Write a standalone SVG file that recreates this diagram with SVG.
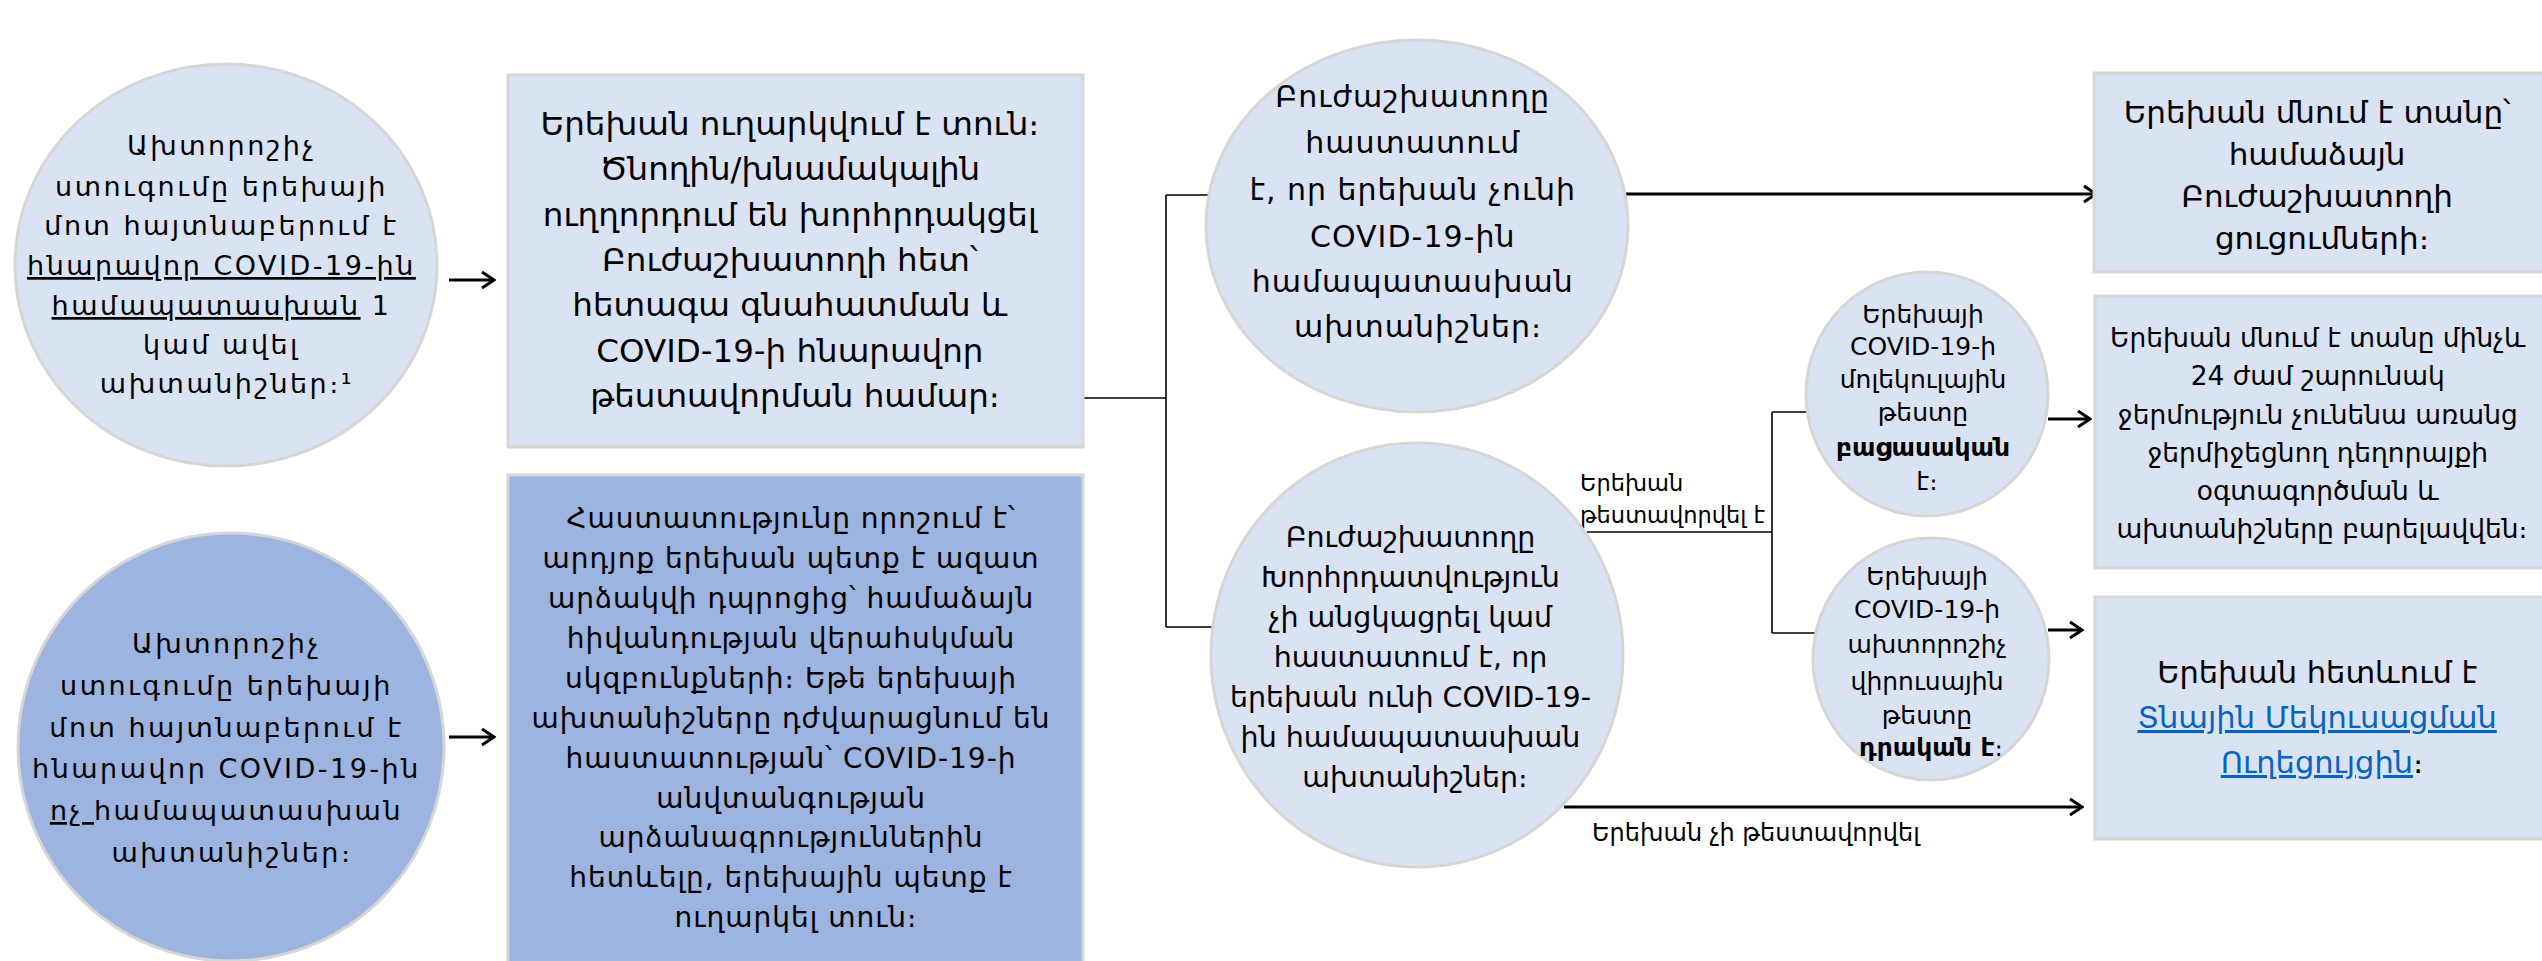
<svg xmlns="http://www.w3.org/2000/svg" width="2542" height="961" viewBox="0 0 2542 961">
<style>
text{font-family:"DejaVu Sans","Noto Sans",sans-serif;fill:#000;text-anchor:middle}
.lt{fill:#dae3f3;stroke:#d6d6d6;stroke-width:3}
.dk{fill:#9cb4df;stroke:#d6d6d6;stroke-width:3}
.ln{fill:none;stroke:#000;stroke-width:1.6}
.ar{fill:none;stroke:#000;stroke-width:3;marker-end:url(#ah)}
.lk{fill:#0563c1;text-decoration:underline}
.b{font-weight:bold}
.u{text-decoration:underline}
.lab{text-anchor:start}
.cir{font-size:27px;letter-spacing:2.5px}
</style>
<defs>
<marker id="ah" viewBox="0 0 16 20" refX="14" refY="10" markerWidth="16" markerHeight="20" markerUnits="userSpaceOnUse" orient="auto">
<path d="M2,2 L14,10 L2,18" fill="none" stroke="#000" stroke-width="3"/>
</marker>
</defs>
<rect width="2542" height="961" fill="#fff"/>

<g id="connectors">
<line class="ar" x1="449" y1="280" x2="494" y2="280"/>
<line class="ar" x1="449" y1="737" x2="494" y2="737"/>
<line class="ln" x1="1083" y1="398" x2="1166" y2="398"/>
<line class="ln" x1="1166" y1="195" x2="1166" y2="627"/>
<line class="ln" x1="1166" y1="195" x2="1209" y2="195"/>
<line class="ln" x1="1166" y1="627" x2="1213" y2="627"/>
<line class="ar" x1="1625" y1="194" x2="2096" y2="194"/>
<line class="ln" x1="1587" y1="532" x2="1772" y2="532"/>
<line class="ln" x1="1772" y1="412" x2="1772" y2="633"/>
<line class="ln" x1="1772" y1="412" x2="1808" y2="412"/>
<line class="ln" x1="1772" y1="633" x2="1815" y2="633"/>
<line class="ar" x1="2048" y1="419" x2="2090" y2="419"/>
<line class="ar" x1="2048" y1="630" x2="2082" y2="630"/>
<line class="ar" x1="1564" y1="807" x2="2082" y2="807"/>
<text class="lab" x="1580" y="491" font-size="22.5">Երեխան</text>
<text class="lab" x="1580" y="523" font-size="22.5">թեստավորվել է</text>
<text class="lab" x="1592" y="841" font-size="24">Երեխան չի թեստավորվել</text>
</g>

<g id="n1">
<ellipse class="lt" cx="226" cy="265" rx="211" ry="201"/>
<text class="cir">
<tspan x="227" y="155">Ախտորոշիչ</tspan>
<tspan x="227" y="196">ստուգումը երեխայի</tspan>
<tspan x="227" y="235">մոտ հայտնաբերում է</tspan>
<tspan x="227" y="275" class="u">հնարավոր COVID-19-ին</tspan>
<tspan x="227" y="315"><tspan class="u">համապատասխան</tspan> 1</tspan>
<tspan x="227" y="354">կամ ավել</tspan>
<tspan x="227" y="393">ախտանիշներ։¹</tspan>
</text>
</g>

<g id="n2">
<ellipse class="dk" cx="231" cy="747" rx="213" ry="214"/>
<text class="cir">
<tspan x="232" y="653">Ախտորոշիչ</tspan>
<tspan x="232" y="695">ստուգումը երեխայի</tspan>
<tspan x="232" y="737">մոտ հայտնաբերում է</tspan>
<tspan x="232" y="778">հնարավոր COVID-19-ին</tspan>
<tspan x="232" y="820"><tspan class="u">ոչ </tspan>համապատասխան</tspan>
<tspan x="232" y="862">ախտանիշներ։</tspan>
</text>
</g>

<g id="n3">
<rect class="lt" x="508" y="75" width="575" height="372"/>
<text font-size="32.5">
<tspan x="795" y="135">Երեխան ուղարկվում է տուն։</tspan>
<tspan x="795" y="180">Ծնողին/խնամակալին</tspan>
<tspan x="795" y="226">ուղղորդում են խորհրդակցել</tspan>
<tspan x="795" y="271">Բուժաշխատողի հետ՝</tspan>
<tspan x="795" y="316">հետագա գնահատման և</tspan>
<tspan x="795" y="362">COVID-19-ի հնարավոր</tspan>
<tspan x="795" y="407">թեստավորման համար։</tspan>
</text>
</g>

<g id="n4">
<rect class="dk" x="508" y="475" width="575" height="500"/>
<text font-size="28" letter-spacing="1">
<tspan x="796" y="528">Հաստատությունը որոշում է՝</tspan>
<tspan x="796" y="568">արդյոք երեխան պետք է ազատ</tspan>
<tspan x="796" y="608">արձակվի դպրոցից՝ համաձայն</tspan>
<tspan x="796" y="648">հիվանդության վերահսկման</tspan>
<tspan x="796" y="688">սկզբունքների։ Եթե երեխայի</tspan>
<tspan x="796" y="728">ախտանիշները դժվարացնում են</tspan>
<tspan x="796" y="768">հաստատության՝ COVID-19-ի</tspan>
<tspan x="796" y="808">անվտանգության</tspan>
<tspan x="796" y="847">արձանագրություններին</tspan>
<tspan x="796" y="887">հետևելը, երեխային պետք է</tspan>
<tspan x="796" y="927">ուղարկել տուն։</tspan>
</text>
</g>

<g id="n5">
<ellipse class="lt" cx="1417" cy="226" rx="211" ry="186"/>
<text font-size="30" letter-spacing="1">
<tspan x="1418" y="107">Բուժաշխատողը</tspan>
<tspan x="1418" y="153">հաստատում</tspan>
<tspan x="1418" y="200">է, որ երեխան  չունի</tspan>
<tspan x="1418" y="247">COVID-19-ին</tspan>
<tspan x="1418" y="292">համապատասխան</tspan>
<tspan x="1418" y="337">ախտանիշներ։</tspan>
</text>
</g>

<g id="n6">
<ellipse class="lt" cx="1417" cy="655" rx="206" ry="212"/>
<text font-size="28.5">
<tspan x="1415" y="547">Բուժաշխատողը</tspan>
<tspan x="1415" y="587">Խորհրդատվություն</tspan>
<tspan x="1415" y="627">չի անցկացրել  կամ</tspan>
<tspan x="1415" y="667">հաստատում է, որ</tspan>
<tspan x="1415" y="707">երեխան ունի COVID-19-</tspan>
<tspan x="1415" y="747">ին համապատասխան</tspan>
<tspan x="1415" y="787">ախտանիշներ։</tspan>
</text>
</g>

<g id="n7">
<ellipse class="lt" cx="1927" cy="394" rx="121" ry="122"/>
<text font-size="25">
<tspan x="1927" y="323">Երեխայի</tspan>
<tspan x="1927" y="355">COVID-19-ի</tspan>
<tspan x="1927" y="388">մոլեկուլային</tspan>
<tspan x="1927" y="421">թեստը</tspan>
<tspan x="1927" y="456" class="b">բացասական</tspan>
<tspan x="1927" y="490">է։</tspan>
</text>
</g>

<g id="n8">
<ellipse class="lt" cx="1931" cy="659" rx="118" ry="121"/>
<text font-size="25">
<tspan x="1931" y="585">Երեխայի</tspan>
<tspan x="1931" y="618">COVID-19-ի</tspan>
<tspan x="1931" y="653">ախտորոշիչ</tspan>
<tspan x="1931" y="690">վիրուսային</tspan>
<tspan x="1931" y="724">թեստը</tspan>
<tspan x="1931" y="756"><tspan class="b">դրական է</tspan>։</tspan>
</text>
</g>

<g id="n9">
<rect class="lt" x="2094" y="73" width="480" height="199"/>
<text font-size="31">
<tspan x="2322" y="123">Երեխան մնում է տանը՝</tspan>
<tspan x="2322" y="165">համաձայն</tspan>
<tspan x="2322" y="207">Բուժաշխատողի</tspan>
<tspan x="2322" y="249">ցուցումների։</tspan>
</text>
</g>

<g id="n10">
<rect class="lt" x="2095" y="296" width="480" height="272"/>
<text font-size="26.5">
<tspan x="2322" y="347">Երեխան մնում է  տանը մինչև</tspan>
<tspan x="2322" y="385">24 ժամ շարունակ</tspan>
<tspan x="2322" y="424">ջերմություն չունենա առանց</tspan>
<tspan x="2322" y="462">ջերմիջեցնող դեղորայքի</tspan>
<tspan x="2322" y="500">օգտագործման և</tspan>
<tspan x="2322" y="538">ախտանիշները բարելավվեն։</tspan>
</text>
</g>

<g id="n11">
<rect class="lt" x="2095" y="597" width="480" height="242"/>
<text font-size="30.5">
<tspan x="2322" y="683">Երեխան հետևում է</tspan>
<tspan x="2322" y="728" class="lk">Տնային Մեկուսացման</tspan>
<tspan x="2322" y="773"><tspan class="lk">Ուղեցույցին</tspan>։</tspan>
</text>
</g>
</svg>
